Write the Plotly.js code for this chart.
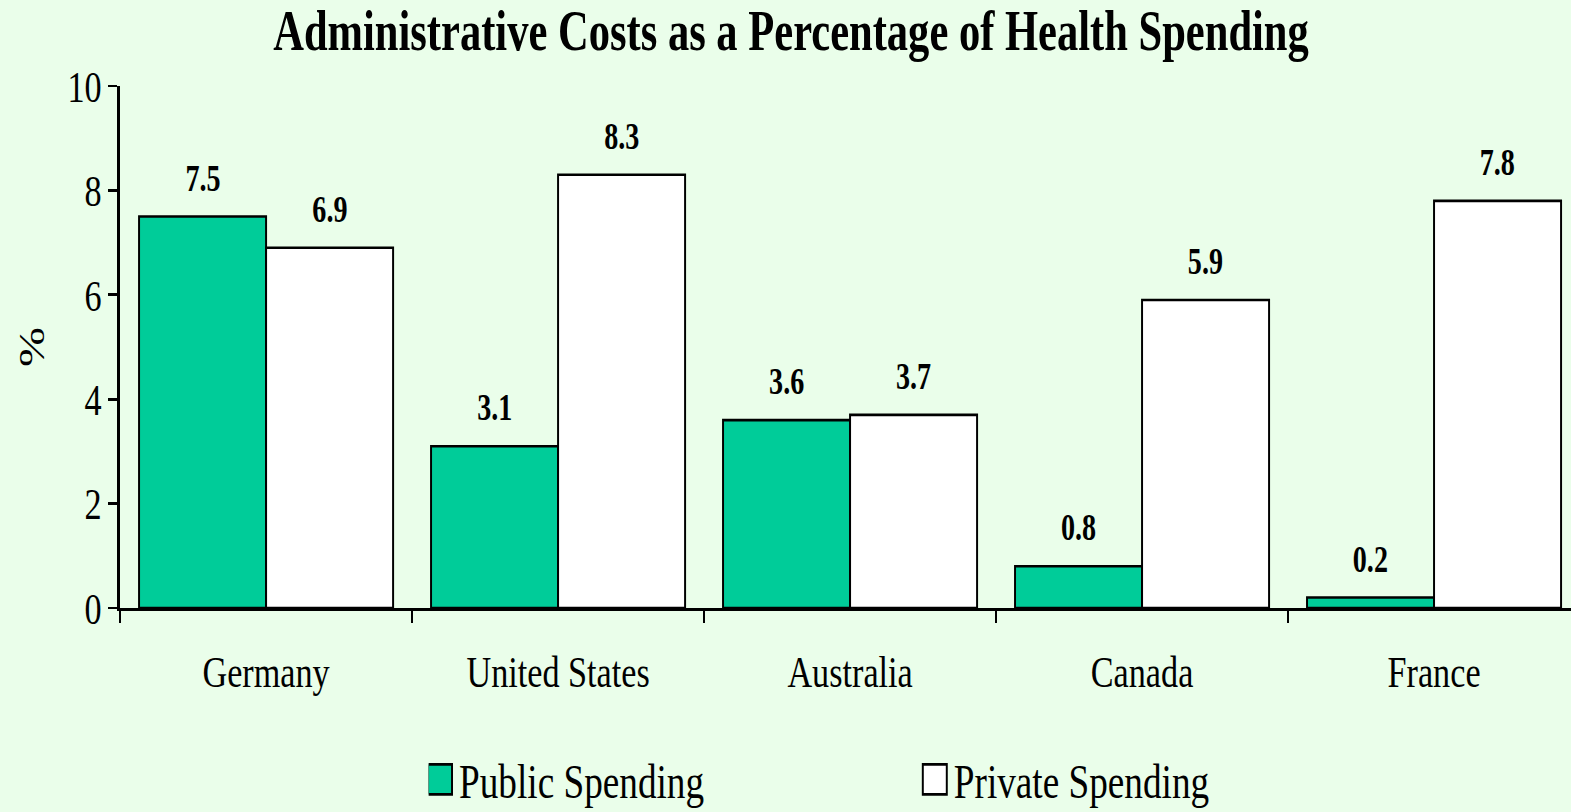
<!DOCTYPE html>
<html>
<head>
<meta charset="utf-8">
<script src="https://cdn.plot.ly/plotly-3.0.1.min.js"></script>
<style>
  html, body { margin:0; padding:0; overflow:hidden; background:#EAFEEA; width:1571px; height:812px; }
  #wrap { transform: scaleX(0.76); transform-origin: 0 0; width:2090px; height:812px; }
  .legendpoints path { transform: translate(15px, 0px) scale(2.63, 2.5); vector-effect: non-scaling-stroke; }
</style>
</head>
<body>
<div id="wrap"><div id="chart"></div></div>
<script>
// ---- data ----
const categories = ["Germany", "United States", "Australia", "Canada", "France"];
const publicSpending = [7.5, 3.1, 3.6, 0.8, 0.2];
const privateSpending = [6.9, 8.3, 3.7, 5.9, 7.8];
const seriesNames = ["Public Spending", "Private Spending"];
const yTicks = [0, 2, 4, 6, 8, 10];

// ---- style ----
const S = 0.76;             // horizontal squeeze of the page
const bg = "#EAFEEA";
const green = "#00CC99";
const font = "Liberation Serif, Times New Roman, serif";
const barGap = 0.13;
const W = 2090;

const traces = [
  { type: "bar", name: seriesNames[0], x: categories, y: publicSpending,
    marker: { color: green, line: { color: "#000", width: 2.6 } }, hoverinfo: "none" },
  { type: "bar", name: seriesNames[1], x: categories, y: privateSpending,
    marker: { color: "#FFFFFF", line: { color: "#000", width: 2.6 } }, hoverinfo: "none" }
];

const off = (1 - barGap) / 4;
const annotations = [];
[publicSpending, privateSpending].forEach((vals, j) => {
  vals.forEach((v, i) => {
    annotations.push({
      x: i + (j === 0 ? -off : off), y: v, xref: "x", yref: "y",
      text: v.toFixed(1), showarrow: false, yanchor: "bottom", yshift: 16,
      font: { family: font, size: 37, color: "#000", weight: "bold" }
    });
  });
});

const layout = {
  width: W, height: 812,
  margin: { l: 120 / S, r: W - 1580 / S, t: 86, b: 204 },
  paper_bgcolor: bg, plot_bgcolor: bg,
  barmode: "group", bargap: barGap, bargroupgap: 0,
  title: { text: "Administrative Costs as a Percentage of Health Spending",
    font: { family: font, size: 56, color: "#000", weight: "bold" },
    xref: "container", x: (791 / S) / W, xanchor: "center",
    yref: "container", y: 1 - 30 / 812, yanchor: "middle" },
  xaxis: {
    type: "category", showline: true, linecolor: "#000", linewidth: 2.6,
    ticks: "outside", tickson: "boundaries", ticklen: 12, tickwidth: 2.6 / S, tickcolor: "#000",
    showgrid: false, zeroline: false,
    tickfont: { family: font, size: 45, color: "#000" }, ticklabelstandoff: 22
  },
  yaxis: {
    range: [0, 10], tickvals: yTicks, showline: true, linecolor: "#000", linewidth: 2.6 / S,
    ticks: "outside", ticklen: 9 / S, tickwidth: 2.6, tickcolor: "#000",
    showgrid: false, zeroline: false,
    tickfont: { family: font, size: 45, color: "#000" },
    title: { text: "%", font: { family: font, size: 48, color: "#000" }, standoff: 16 }
  },
  showlegend: true,
  legend: {
    orientation: "h", xref: "container", yref: "container",
    x: 564 / W, xanchor: "left", y: 1 - 741 / 812, yanchor: "top",
    font: { family: font, size: 49, color: "#000" },
    entrywidth: 606, bgcolor: "rgba(0,0,0,0)"
  },
  annotations: annotations
};

Plotly.newPlot("chart", traces, layout, { displayModeBar: false, staticPlot: true });
</script>
</body>
</html>
